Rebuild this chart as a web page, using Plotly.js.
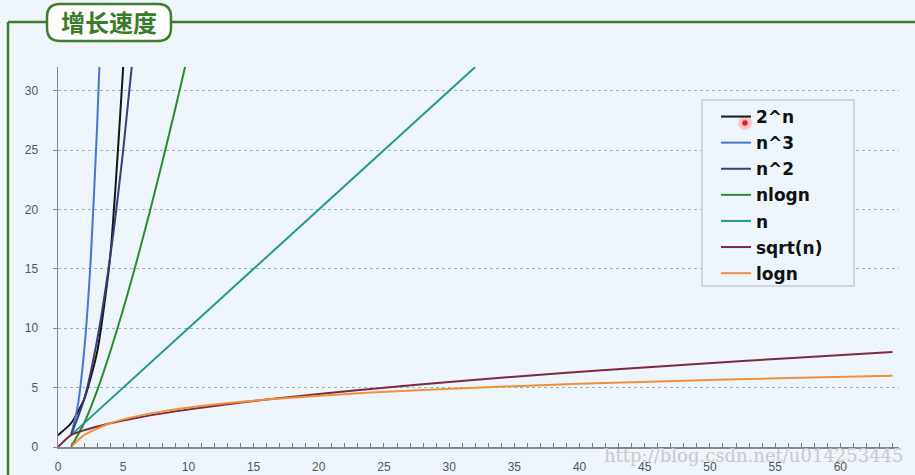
<!DOCTYPE html>
<html>
<head>
<meta charset="utf-8">
<script src="https://cdn.plot.ly/plotly-3.0.1.min.js"></script>
<style>html,body{margin:0;padding:0;background:#eef5fc;}#chart{width:915px;height:475px;}</style>
</head>
<body>
<div id="chart"></div>
<script>
// ---- data ----
const seriesNames = ["2^n", "n^3", "n^2", "nlogn", "n", "sqrt(n)", "logn"];
const exp2X = [0, 1, 2, 3, 4, 5];
const exp2Y = [1, 2, 4, 8, 16, 32];
const cubeX = [1, 1.5, 2, 2.5, 3, 3.2];
const cubeY = [1, 3.375, 8, 15.6, 27, 32.8];
const squareX = [1, 2, 3, 4, 5, 5.7];
const squareY = [1, 4, 9, 16, 25, 32.5];
const nlognX = [1, 2, 3, 4, 5, 6, 7, 8, 9, 10];
const nlognY = [0, 2, 4.75, 8, 11.6, 15.5, 19.65, 24, 28.5, 33.2];
const linX = [1, 32];
const linY = [1, 32];
const sqrtX = [0, 1, 2, 4, 6, 9, 12, 16, 20, 25, 30, 36, 42, 49, 56, 64];
const sqrtY = [0, 1, 1.41, 2, 2.45, 3, 3.46, 4, 4.47, 5, 5.48, 6, 6.48, 7, 7.48, 8];
const logX = [1, 2, 4, 6, 8, 12, 16, 24, 32, 40, 48, 56, 64];
const logY = [0, 1, 2, 2.58, 3, 3.58, 4, 4.58, 5, 5.32, 5.58, 5.81, 6];
const xTickVals = [0, 5, 10, 15, 20, 25, 30, 35, 40, 45, 50, 55, 60];
const yTickVals = [0, 5, 10, 15, 20, 25, 30];
const chartTitle = "增长速度";
const watermark = "http://blog.csdn.net/u014253445";

const colors = ["#161616", "#4a74d4", "#3c3c78", "#2a8c2a", "#1f9a8c", "#7a2a3c", "#f0903a"];
const xs = [exp2X, cubeX, squareX, nlognX, linX, sqrtX, logX];
const ys = [exp2Y, cubeY, squareY, nlognY, linY, sqrtY, logY];

const traces = seriesNames.map((nm, i) => ({
  x: xs[i], y: ys[i], name: "<b>" + nm + "</b>", legendgroup: "g" + i, type: "scatter", mode: "lines",
  line: {color: colors[i], width: 2, shape: "spline", smoothing: 0.6}
}));

// pixel -> paper helpers (plot area: x 58..899, y 67..447)
const L = 58, R = 16, T = 67, B = 28, W = 915, H = 475;
const pw = W - L - R, ph = H - T - B;
const px = v => (v - L) / pw;
const py = v => (H - B - v) / ph;

function roundRect(x0, y0, x1, y1, r) {
  return `M ${px(x0 + r)} ${py(y0)} L ${px(x1 - r)} ${py(y0)} Q ${px(x1)} ${py(y0)} ${px(x1)} ${py(y0 + r)} ` +
    `L ${px(x1)} ${py(y1 - r)} Q ${px(x1)} ${py(y1)} ${px(x1 - r)} ${py(y1)} ` +
    `L ${px(x0 + r)} ${py(y1)} Q ${px(x0)} ${py(y1)} ${px(x0)} ${py(y1 - r)} ` +
    `L ${px(x0)} ${py(y0 + r)} Q ${px(x0)} ${py(y0)} ${px(x0 + r)} ${py(y0)} Z`;
}

const green = "#3d7d2c";
const shapes = [
  {type: "line", xref: "paper", yref: "paper", x0: px(8), x1: px(8), y0: py(22), y1: py(480), line: {color: green, width: 2.5}, layer: "above"},
  {type: "line", xref: "paper", yref: "paper", x0: px(8), x1: px(48), y0: py(22), y1: py(22), line: {color: green, width: 2.5}, layer: "above"},
  {type: "line", xref: "paper", yref: "paper", x0: px(170), x1: px(920), y0: py(22), y1: py(22), line: {color: green, width: 2.5}, layer: "above"},
  {type: "path", xref: "paper", yref: "paper", path: roundRect(47, 4, 171, 41, 13), fillcolor: "#ffffff", line: {color: green, width: 2.5}, layer: "above"},
  {type: "rect", xref: "paper", yref: "paper", x0: px(702), x1: px(854), y0: py(100), y1: py(286), fillcolor: "#eef5fc", line: {color: "#c8ccd0", width: 1.5}, layer: "above"},
  {type: "circle", xref: "paper", yref: "paper", x0: px(738), x1: px(752), y0: py(116), y1: py(130), fillcolor: "rgba(255,120,120,0.35)", line: {width: 0}, layer: "above"},
  {type: "circle", xref: "paper", yref: "paper", x0: px(742), x1: px(748), y0: py(120), y1: py(126), fillcolor: "#e02020", line: {color: "#ff8080", width: 1}, layer: "above"}
];

const annotations = [
  {xref: "paper", yref: "paper", x: px(109), y: py(22), text: "<b>" + chartTitle + "</b>", showarrow: false,
   font: {family: "Noto Sans CJK SC", size: 24, color: "#3a7a2a"}, xanchor: "center", yanchor: "middle"},
  {xref: "paper", yref: "paper", x: px(906), y: py(455), text: watermark, showarrow: false,
   font: {family: "DejaVu Serif, Liberation Serif, serif", size: 18, color: "#c8c8cc"}, xanchor: "right", yanchor: "middle"}
];

const layout = {
  width: W, height: H,
  margin: {l: L, r: R, t: T, b: B, pad: 0},
  paper_bgcolor: "#eef5fc", plot_bgcolor: "#eef5fc",
  showlegend: true,
  legend: {x: px(716), y: py(99), xanchor: "left", yanchor: "top",
    bgcolor: "rgba(0,0,0,0)", borderwidth: 0, tracegroupgap: 1,
    font: {family: "DejaVu Sans", size: 17, color: "#111"}, itemwidth: 30},
  xaxis: {range: [0, 64.5], tickvals: xTickVals, ticks: "inside", ticklen: 4, tickcolor: "#777",
    showline: true, linecolor: "#888", linewidth: 1.5, showgrid: false, zeroline: false, ticklabelstandoff: 8,
    minor: {dtick: 1, ticks: "inside", ticklen: 4, tickcolor: "#777", showgrid: false},
    tickfont: {family: "Liberation Sans, Arial", size: 12, color: "#555"}, fixedrange: true},
  yaxis: {range: [0, 32], tickvals: yTickVals, ticks: "outside", ticklen: 4, tickcolor: "#888",
    showline: true, linecolor: "#888", linewidth: 1.5, zeroline: false, ticklabelstandoff: 12,
    showgrid: true, gridcolor: "#8bbdb8", griddash: "dot", gridwidth: 1,
    tickfont: {family: "Liberation Sans, Arial", size: 12, color: "#555"}, fixedrange: true},
  shapes: shapes,
  annotations: annotations
};

Plotly.newPlot("chart", traces, layout, {displayModeBar: false, staticPlot: true});
</script>
</body>
</html>
